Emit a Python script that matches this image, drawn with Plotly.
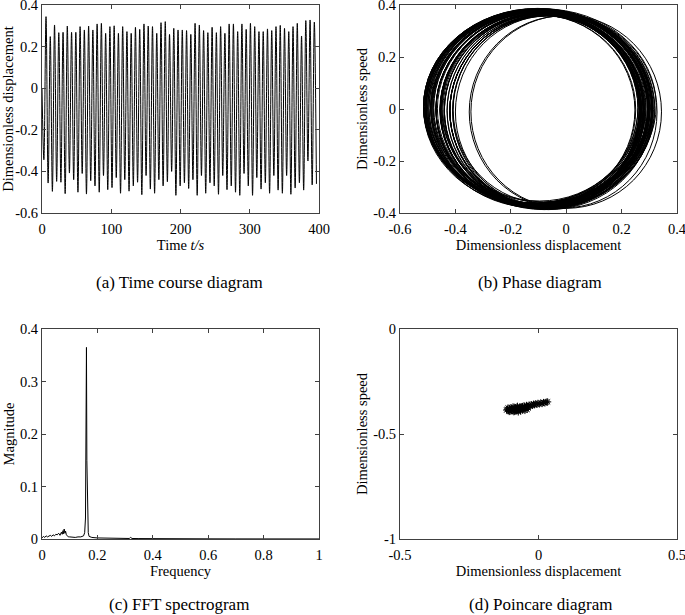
import plotly.graph_objects as go
from plotly.subplots import make_subplots

# --- (a) time course: extrema of the displacement signal ---
t_start, x_start = 0.0, 0.0
trough_t = [2.7, 8.85, 15.0, 21.15, 27.3, 33.45, 39.6, 45.75, 51.9, 58.05,
            64.2, 70.35, 76.5, 82.65, 88.8, 94.95, 101.1, 107.25, 113.4, 119.55,
            125.7, 131.85, 138.0, 144.15, 150.3, 156.45, 162.6, 168.75, 174.9, 181.05,
            187.2, 193.35, 199.5, 205.65, 211.8, 217.95, 224.1, 230.25, 236.4, 242.55,
            248.7, 254.85, 261.0, 267.15, 273.3, 279.45, 285.6, 291.75, 297.9, 304.05,
            310.2, 316.35, 322.5, 328.65, 334.8, 340.95, 347.1, 353.25, 359.4, 365.55,
            371.7, 377.85, 384.0, 390.15, 396.3]
trough_x = [-0.344, -0.456, -0.496, -0.448, -0.452, -0.507, -0.408, -0.440, -0.500, -0.410,
            -0.509, -0.445, -0.470, -0.500, -0.420, -0.488, -0.478, -0.430, -0.505, -0.440,
            -0.495, -0.470, -0.452, -0.512, -0.420, -0.485, -0.505, -0.440, -0.470, -0.450,
            -0.400, -0.515, -0.470, -0.455, -0.482, -0.440, -0.515, -0.420, -0.505, -0.455,
            -0.470, -0.510, -0.420, -0.488, -0.470, -0.500, -0.515, -0.410, -0.470, -0.515,
            -0.430, -0.485, -0.455, -0.505, -0.420, -0.490, -0.505, -0.420, -0.510, -0.480,
            -0.455, -0.490, -0.350, -0.465, -0.460]
peak_t = [5.8, 11.95, 18.1, 24.25, 30.4, 36.55, 42.7, 48.85, 55.0, 61.15,
          67.3, 73.45, 79.6, 85.75, 91.9, 98.05, 104.2, 110.35, 116.5, 122.65,
          128.8, 134.95, 141.1, 147.25, 153.4, 159.55, 165.7, 171.85, 178.0, 184.15,
          190.3, 196.45, 202.6, 208.75, 214.9, 221.05, 227.2, 233.35, 239.5, 245.65,
          251.8, 257.95, 264.1, 270.25, 276.4, 282.55, 288.7, 294.85, 301.0, 307.15,
          313.3, 319.45, 325.6, 331.75, 337.9, 344.05, 350.2, 356.35, 362.5, 368.65,
          374.8, 380.95, 387.1, 393.25]
peak_x = [0.344, 0.248, 0.304, 0.267, 0.269, 0.299, 0.269, 0.269, 0.296, 0.280,
          0.299, 0.280, 0.309, 0.312, 0.264, 0.296, 0.300, 0.264, 0.296, 0.272,
          0.264, 0.293, 0.283, 0.309, 0.299, 0.296, 0.264, 0.315, 0.320, 0.259,
          0.288, 0.280, 0.280, 0.277, 0.259, 0.312, 0.304, 0.277, 0.267, 0.293,
          0.267, 0.296, 0.264, 0.309, 0.309, 0.272, 0.309, 0.283, 0.312, 0.296,
          0.272, 0.272, 0.285, 0.277, 0.296, 0.302, 0.288, 0.272, 0.296, 0.312,
          0.251, 0.325, 0.328, 0.318]

# --- (b) phase diagram: max / min speed of every cycle ---
speed_max = [0.360, 0.363, 0.382, 0.365, 0.366, 0.383, 0.357, 0.364, 0.381, 0.360,
             0.384, 0.367, 0.378, 0.384, 0.359, 0.379, 0.378, 0.361, 0.382, 0.364,
             0.374, 0.375, 0.369, 0.386, 0.366, 0.378, 0.376, 0.373, 0.380, 0.364,
             0.360, 0.381, 0.372, 0.368, 0.370, 0.372, 0.386, 0.361, 0.376, 0.372,
             0.369, 0.383, 0.359, 0.381, 0.378, 0.376, 0.387, 0.361, 0.378, 0.384,
             0.362, 0.373, 0.370, 0.378, 0.365, 0.380, 0.381, 0.360, 0.383, 0.380,
             0.363, 0.385, 0.358, 0.379]
speed_min = [-0.382, -0.371, -0.372, -0.366, -0.377, -0.363, -0.364, -0.376, -0.363, -0.380,
             -0.371, -0.372, -0.384, -0.368, -0.372, -0.377, -0.368, -0.376, -0.369, -0.375,
             -0.369, -0.371, -0.381, -0.368, -0.379, -0.382, -0.363, -0.379, -0.376, -0.354,
             -0.383, -0.372, -0.369, -0.374, -0.362, -0.387, -0.367, -0.378, -0.366, -0.375,
             -0.377, -0.365, -0.372, -0.378, -0.384, -0.379, -0.366, -0.373, -0.387, -0.367,
             -0.373, -0.367, -0.380, -0.361, -0.379, -0.383, -0.364, -0.378, -0.377, -0.375,
             -0.370, -0.357, -0.381, -0.378]

# --- (c) FFT spectrum ---
freq = [0, 0.005, 0.01, 0.015, 0.02, 0.025, 0.03, 0.035, 0.04, 0.045,
        0.05, 0.055, 0.06, 0.065, 0.07, 0.073, 0.076, 0.078, 0.08, 0.083,
        0.085, 0.088, 0.09, 0.095, 0.1, 0.11, 0.12, 0.13, 0.14, 0.15,
        0.154, 0.157, 0.159, 0.1605, 0.162, 0.164, 0.167, 0.17, 0.18, 0.2,
        0.22, 0.25, 0.28, 0.3, 0.315, 0.32, 0.325, 0.35, 0.4, 0.5,
        0.6, 0.7, 0.8, 0.9, 1.0]
mag = [0.002, 0.005, 0.003, 0.006, 0.004, 0.005, 0.007, 0.005, 0.008, 0.006,
       0.009, 0.008, 0.011, 0.007, 0.013, 0.009, 0.016, 0.010, 0.019, 0.011,
       0.015, 0.008, 0.006, 0.004, 0.004, 0.003, 0.003, 0.004, 0.004, 0.006,
       0.012, 0.040, 0.150, 0.365, 0.150, 0.040, 0.012, 0.005, 0.003, 0.002,
       0.002, 0.0015, 0.001, 0.001, 0.001, 0.003, 0.001, 0.0008, 0.0005, 0.0004,
       0.0003, 0.0002, 0.0002, 0.0001, 0.0001]

# --- (d) Poincare section points ---
poin_x = [-0.112, -0.108, -0.105, -0.103, -0.100, -0.098, -0.095, -0.093, -0.090, -0.088,
          -0.086, -0.083, -0.080, -0.078, -0.075, -0.072, -0.070, -0.067, -0.064, -0.061,
          -0.058, -0.055, -0.052, -0.049, -0.046, -0.043, -0.040, -0.037, -0.034, -0.030,
          -0.026, -0.022, -0.018, -0.014, -0.010, -0.006, -0.002, 0.003, 0.008, 0.013,
          0.018, 0.023, 0.028, 0.033, -0.106, -0.097, -0.089, -0.081, -0.073, -0.065,
          -0.057, -0.049, -0.041, -0.110, -0.092, -0.076, -0.060, -0.044, -0.115, -0.068]
poin_y = [-0.382, -0.388, -0.378, -0.392, -0.384, -0.376, -0.390, -0.381, -0.386, -0.374,
          -0.392, -0.379, -0.385, -0.372, -0.388, -0.377, -0.383, -0.370, -0.386, -0.375,
          -0.369, -0.380, -0.366, -0.374, -0.372, -0.364, -0.368, -0.376, -0.362, -0.366,
          -0.360, -0.364, -0.358, -0.361, -0.356, -0.359, -0.354, -0.357, -0.352, -0.355,
          -0.350, -0.352, -0.348, -0.347, -0.393, -0.387, -0.394, -0.389, -0.395, -0.390,
          -0.386, -0.388, -0.383, -0.376, -0.371, -0.368, -0.372, -0.367, -0.386, -0.379]

# build the signal from the extrema lists
ts_t, ts_x = [t_start], [x_start]
for i in range(len(peak_x)):
    ts_t += [trough_t[i], peak_t[i]]
    ts_x += [trough_x[i], peak_x[i]]
ts_t.append(trough_t[-1])
ts_x.append(trough_x[-1])

FONT = "Liberation Serif, Times New Roman, serif"
FS = 14.5
W, H = 685, 615

fig = make_subplots(rows=2, cols=2)
fig.add_trace(go.Scatter(x=ts_t, y=ts_x, mode="lines",
                         line=dict(color="black", width=1, shape="spline")), 1, 1)
# phase plane: invisible trace keeps the axes live, each cycle drawn as a loop
fig.add_trace(go.Scatter(x=trough_x + peak_x, y=[0] * (len(trough_x) + len(peak_x)),
                         mode="markers", marker=dict(size=1, color="black", opacity=0)), 1, 2)
for i in range(len(peak_x)):
    fig.add_shape(type="circle", xref="x2", yref="y2",
                  x0=trough_x[i], x1=peak_x[i], y0=speed_min[i], y1=speed_max[i],
                  line=dict(color="black", width=1), layer="above")
fig.add_trace(go.Scatter(x=freq, y=mag, mode="lines", line=dict(color="black", width=1)), 2, 1)
fig.add_trace(go.Scatter(x=poin_x, y=poin_y, mode="markers",
                         marker=dict(symbol="asterisk-open", size=6, color="black",
                                     line=dict(color="black", width=1))), 2, 2)


def px_x(a, b):
    return [a / W, b / W]


def px_y(top, bottom):
    return [1 - bottom / H, 1 - top / H]


def ticks(vals, texts):
    return dict(tickvals=vals, ticktext=texts)


def title(text, standoff):
    return dict(text=text, standoff=standoff, font=dict(family=FONT, size=FS, color="black"))


axis_common = dict(showgrid=False, zeroline=False, showline=True, linecolor="#404040", linewidth=1,
                   mirror="ticks", ticks="inside", ticklen=4, tickcolor="#404040", automargin=False,
                   ticklabeloverflow="allow", tickfont=dict(family=FONT, size=FS, color="black"))

disp_vals = [-0.6, -0.4, -0.2, 0, 0.2, 0.4]
disp_text = ["-0.6", "-0.4", "-0.2", "0", "0.2", "0.4"]
XS = 2

fig.update_layout(
    xaxis=dict(domain=px_x(42, 319), range=[0, 400],
               **ticks([0, 100, 200, 300, 400], ["0", "100", "200", "300", "400"]),
               title=title("Time <i>t/s</i>", XS), ticklabelstandoff=3, **axis_common),
    yaxis=dict(domain=px_y(5, 213), range=[-0.6, 0.4], **ticks(disp_vals, disp_text),
               title=title("Dimensionless displacement", 8), **axis_common),
    xaxis2=dict(domain=px_x(400, 677), range=[-0.6, 0.4], **ticks(disp_vals, disp_text),
                title=title("Dimensionless displacement", XS), ticklabelstandoff=3, **axis_common),
    yaxis2=dict(domain=px_y(5, 213), range=[-0.4, 0.4],
                **ticks([-0.4, -0.2, 0, 0.2, 0.4], ["-0.4", "-0.2", "0", "0.2", "0.4"]),
                title=title("Dimensionless speed", 2), **axis_common),
    xaxis3=dict(domain=px_x(42, 319), range=[0, 1],
                **ticks([0, 0.2, 0.4, 0.6, 0.8, 1], ["0", "0.2", "0.4", "0.6", "0.8", "1"]),
                title=title("Frequency", XS), ticklabelstandoff=3, **axis_common),
    yaxis3=dict(domain=px_y(329, 539), range=[0, 0.4],
                **ticks([0, 0.1, 0.2, 0.3, 0.4], ["0", "0.1", "0.2", "0.3", "0.4"]),
                title=title("Magnitude", 1), **axis_common),
    xaxis4=dict(domain=px_x(400, 677), range=[-0.5, 0.5], **ticks([-0.5, 0, 0.5], ["-0.5", "0", "0.5"]),
                title=title("Dimensionless displacement", XS), ticklabelstandoff=3, **axis_common),
    yaxis4=dict(domain=px_y(329, 539), range=[-1, 0], **ticks([-1, -0.5, 0], ["-1", "-0.5", "0"]),
                title=title("Dimensionless speed", 2), **axis_common),
)

captions = [("(a) Time course diagram", 179, 282), ("(b) Phase diagram", 540, 282),
            ("(c) FFT spectrogram", 179, 604), ("(d) Poincare diagram", 541, 604)]
for text, cx, cy in captions:
    fig.add_annotation(text=text, x=cx / W, y=1 - cy / H, xref="paper", yref="paper",
                       showarrow=False, xanchor="center", yanchor="middle",
                       font=dict(family=FONT, size=17, color="black"))

fig.update_layout(width=W, height=H, margin=dict(l=0, r=0, t=0, b=0),
                  paper_bgcolor="white", plot_bgcolor="white", showlegend=False,
                  font=dict(family=FONT, color="black"))

# drop the browser's default page margin so the figure fills the window
fig.write_html("out.html", config={"displayModeBar": False},
               post_script="document.body.style.margin = '0';")
